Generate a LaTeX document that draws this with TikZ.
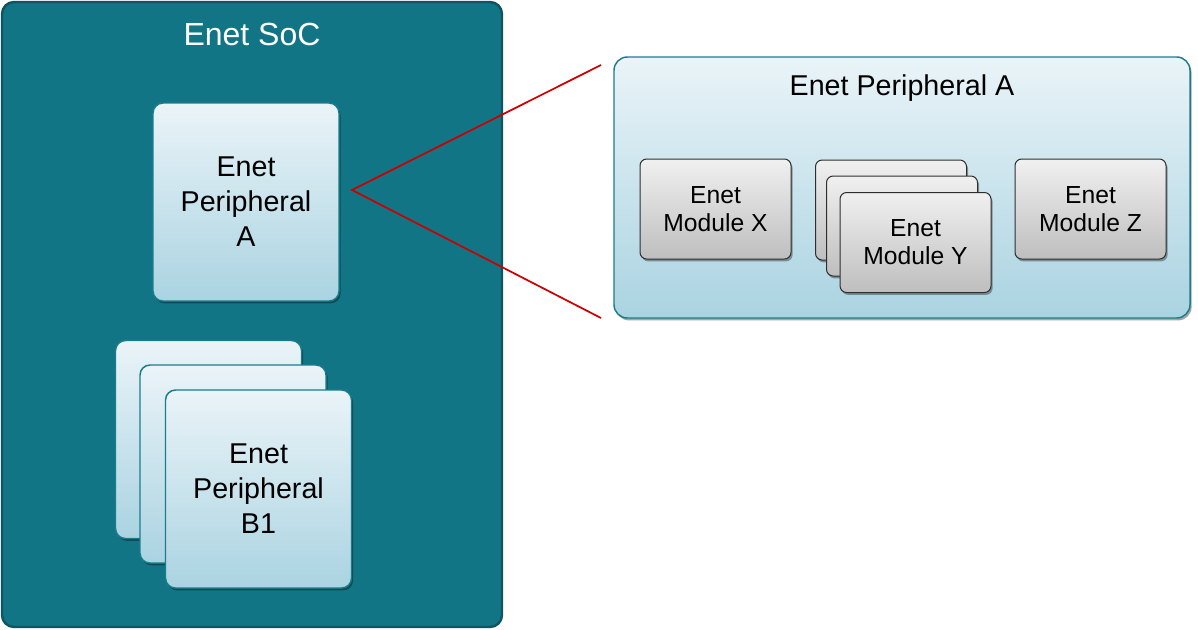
\documentclass[tikz,border=0pt]{standalone}
\usepackage{fontspec}
\setmainfont{Liberation Sans}
\usetikzlibrary{shadows}
\definecolor{socfill}{HTML}{127586}
\definecolor{socdraw}{HTML}{0D5561}
\definecolor{ptop}{HTML}{EAF4F8}
\definecolor{pbot}{HTML}{AAD3E1}
\definecolor{pdraw}{HTML}{1B7D8C}
\definecolor{mtop}{HTML}{F0F0F0}
\definecolor{mbot}{HTML}{BEBEBE}
\definecolor{mdraw}{HTML}{2E2E2E}
\definecolor{zoomred}{HTML}{CC0000}
\begin{document}
\begin{tikzpicture}[x=0.75pt,y=-0.75pt,
  boxshadow/.style={drop shadow={shadow xshift=1.2pt,shadow yshift=-1.8pt,opacity=0.35,fill=black}},
  socbox/.style={draw=socdraw,line width=1.8pt,fill=socfill,rounded corners=9pt,
    minimum width=375pt,minimum height=468.75pt,inner sep=0pt},
  pbox/.style={draw=pdraw,line width=1.1pt,top color=ptop,bottom color=pbot,
    rounded corners=7.5pt,inner sep=0pt,boxshadow},
  pcard/.style={pbox,minimum width=139.5pt,minimum height=148.5pt,align=center,
    font=\fontsize{21.5}{26.25}\selectfont},
  bigbox/.style={pbox,minimum width=432pt,minimum height=195.75pt,rounded corners=10pt},
  mbox/.style={draw=mdraw,line width=0.75pt,top color=mtop,bottom color=mbot,
    rounded corners=5pt,inner sep=0pt,minimum width=113.25pt,minimum height=75pt,
    align=center,font=\fontsize{18.5}{21}\selectfont,boxshadow},
  zoomline/.style={draw=zoomred,line width=1.3pt}
]
\path[fill=white] (0,0) rectangle (1198,629);
\useasboundingbox (0,0) rectangle (1198,629);

% SoC
\node[socbox] (soc) at (252,314.5) {};
\node[text=white,font=\fontsize{24}{28}\selectfont] (soct) at (252,34) {Enet SoC};

% Peripheral A
\node[pcard] (pa) at (246,202) {Enet\\Peripheral\\A};

% Peripheral B stack
\node[pcard] (pb3) at (208.5,439.5) {};
\node[pcard] (pb2) at (233,464) {};
\node[pcard] (pb1) at (258.5,489) {Enet\\Peripheral\\B1};

% Zoomed Peripheral A
\node[bigbox] (big) at (902,187.5) {};
\node[font=\fontsize{21.5}{26}\selectfont] (bigt) at (902,88) {Enet Peripheral A};

\node[mbox] (mx) at (715.5,209) {Enet\\Module X};
\node[mbox] (my3) at (891,210) {};
\node[mbox] (my2) at (902,226) {};
\node[mbox] (my1) at (915.5,242.5) {Enet\\Module Y};
\node[mbox] (mz) at (1090.5,209) {Enet\\Module Z};

% zoom lines
\coordinate (zt) at (352,190);
\coordinate (zu) at (601,65);
\coordinate (zd) at (601,318);
\draw[zoomline] (zu) -- (zt) -- (zd);
\end{tikzpicture}
\end{document}
